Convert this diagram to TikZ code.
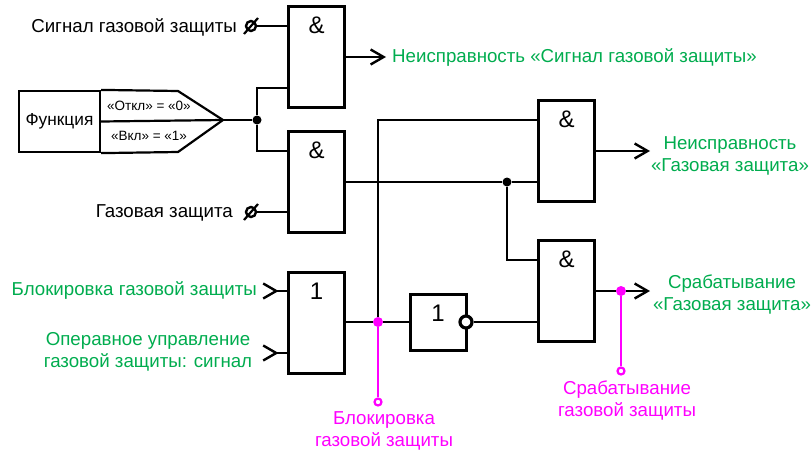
\documentclass[tikz,border=0pt]{standalone}
\usepackage{fontspec}
\setmainfont{Liberation Sans}
\usetikzlibrary{arrows.meta}
\definecolor{sigGreen}{HTML}{00AC4E}
\definecolor{sigPink}{HTML}{FF00FF}
\tikzset{%
  >={Straight Barb[length=13pt,width=15pt,line width=2.4pt]},
  % Specifications for style of nodes:
      gate/.style = {rectangle, draw=black, line width=3pt, inner sep=0pt,
                     minimum width=56pt, minimum height=101pt},
   andgate/.style = {gate, label={[gatemark]north:\&}},
    orgate/.style = {gate, label={[gatemark]north:1}},
  gatemark/.style = {anchor=north, yshift=-12pt, inner sep=0pt, font=\fontsize{24}{24}\selectfont},
      wire/.style = {line width=2.2pt},
  pinkwire/.style = {line width=2.4pt, draw=sigPink},
    jointdot/.style = {circle, fill=black, inner sep=0pt, minimum size=9pt},
   pinkdot/.style = {circle, fill=sigPink, inner sep=0pt, minimum size=10pt},
   pinkpin/.style = {circle, draw=sigPink, fill=white, line width=2.2pt, inner sep=0pt, minimum size=7pt},
   nullpin/.style = {circle, draw=black, line width=2.4pt, inner sep=0pt, minimum size=10pt},
    bubble/.style = {circle, draw=black, fill=white, line width=3.2pt, inner sep=0pt, minimum size=12pt},
   blacktext/.style = {inner sep=0pt, align=center, font=\fontsize{18.7}{22}\selectfont},
   greentext/.style = {blacktext, text=sigGreen},
    pinktext/.style = {blacktext, text=sigPink},
   smalltext/.style = {inner sep=0pt, font=\fontsize{13.5}{15}\selectfont},
}

\begin{document}
\begin{tikzpicture}[x=1pt, y=-1pt]
  \useasboundingbox (0,0) rectangle (811,453);
  % Specification of nodes (position, etc.)
  \node (andSignal)  [andgate] at (316.5,57)  {};
  \node (andGas)     [andgate] at (316.5,182) {};
  \node (andFault)   [andgate] at (566.5,151) {};
  \node (andTrip)    [andgate] at (566.5,291) {};
  \node (orBlock)    [orgate]  at (316.5,322.5) {};
  \node (notBlock)   [orgate, minimum height=56pt] at (438,322) {};

  \node (fnbox) [draw=black, line width=2.2pt, inner sep=0pt, minimum width=81pt, minimum height=61pt,
                 font=\fontsize{17.3}{19}\selectfont] at (59.5,121.5) {Функция};
  \coordinate (fnTip) at (223,120);
  \node (fnOff) [smalltext] at (149,106) {«Откл» = «0»};
  \node (fnOn)  [smalltext] at (149,136) {«Вкл» = «1»};

  \node (pinSignal) [nullpin] at (251,26)  {};
  \node (pinGas)    [nullpin] at (251,212) {};
  \node (fork)      [jointdot] at (257,120) {};
  \node (split)     [jointdot] at (507,182) {};
  \node (notOut)    [bubble]  at (466,322) {};
  \node (blockDot)  [pinkdot] at (378,322) {};
  \node (tripDot)   [pinkdot] at (621,291) {};
  \node (blockPin)  [pinkpin] at (378,402) {};
  \node (tripPin)   [pinkpin] at (621,371) {};

  \coordinate (inBlock) at (262,291);
  \coordinate (inOper)  at (262,353);
  \coordinate (outSignal) at (386,57);
  \coordinate (outFault)  at (650,151);
  \coordinate (outTrip)   at (650,291);

  \node (txtSignal) [blacktext, anchor=east] at (237,27)  {Сигнал газовой защиты};
  \node (txtGas)    [blacktext, anchor=east] at (233,213) {Газовая защита};
  \node (txtBlock)  [greentext, anchor=east] at (257,290) {Блокировка газовой защиты};
  \node (txtOper)   [greentext] at (148,352) {Операвное управление\\ газовой защиты: сигнал};
  \node (txtOutSig) [greentext, anchor=west] at (392,57) {Неисправность «Сигнал газовой защиты»};
  \node (txtOutFlt) [greentext] at (730,156) {Неисправность\\ «Газовая защита»};
  \node (txtOutTrp) [greentext] at (732,294) {Срабатывание\\ «Газовая защита»};
  \node (txtPkTrip) [pinktext] at (627,400) {Срабатывание\\ газовой защиты};
  \node (txtPkBlk)  [pinktext] at (384,431) {Блокировка\\ газовой защиты};

  % Specification of lines between nodes specified above
  \draw[line width=2.2pt, line join=round] (fnbox.north east) -- (178,91) -- (fnTip) -- (178,152) -- (fnbox.south east);
  \draw[wire] (fnbox.east) -- (fnTip);
  \draw[wire] (fnTip) -- (fork);
  \draw[wire] (fork) |- ([yshift=-31pt]andSignal.west);
  \draw[wire] (fork) |- ([yshift=31pt]andGas.west);

  \draw[wire] (pinSignal) -- (andSignal.west |- pinSignal);
  \draw[wire] (pinGas) -- (andGas.west |- pinGas);
  \draw[wire] ([shift={(-7pt,-8pt)}]pinSignal.center) -- ([shift={(7pt,8pt)}]pinSignal.center);
  \draw[wire] ([shift={(-7pt,-8pt)}]pinGas.center) -- ([shift={(7pt,8pt)}]pinGas.center);

  \draw[wire, ->] (andSignal.east) -- (outSignal);
  \draw[wire] (andGas.east) -- (split);
  \draw[wire] (split) -- (andFault.west |- split);
  \draw[wire] (split) |- (andTrip.west |- 0,260);
  \draw[wire] (blockDot) |- (andFault.west |- 0,120);
  \draw[wire, ->] (andFault.east) -- (outFault);

  \draw[wire, {Straight Barb[reversed,length=13pt,width=15pt,line width=2.4pt]}-] (inBlock) -- (orBlock.west |- inBlock);
  \draw[wire, {Straight Barb[reversed,length=13pt,width=15pt,line width=2.4pt]}-] (inOper) -- (orBlock.west |- inOper);
  \draw[wire] (orBlock.east |- blockDot) -- (blockDot);
  \draw[wire] (blockDot) -- (notBlock.west |- blockDot);
  \draw[wire] (notOut) -- (andTrip.west |- notOut);
  \draw[wire] (andTrip.east) -- (tripDot);
  \draw[wire, ->] (tripDot) -- (outTrip);

  \draw[pinkwire] (blockDot) -- (blockPin);
  \draw[pinkwire] (tripDot) -- (tripPin);
\end{tikzpicture}
\end{document}
